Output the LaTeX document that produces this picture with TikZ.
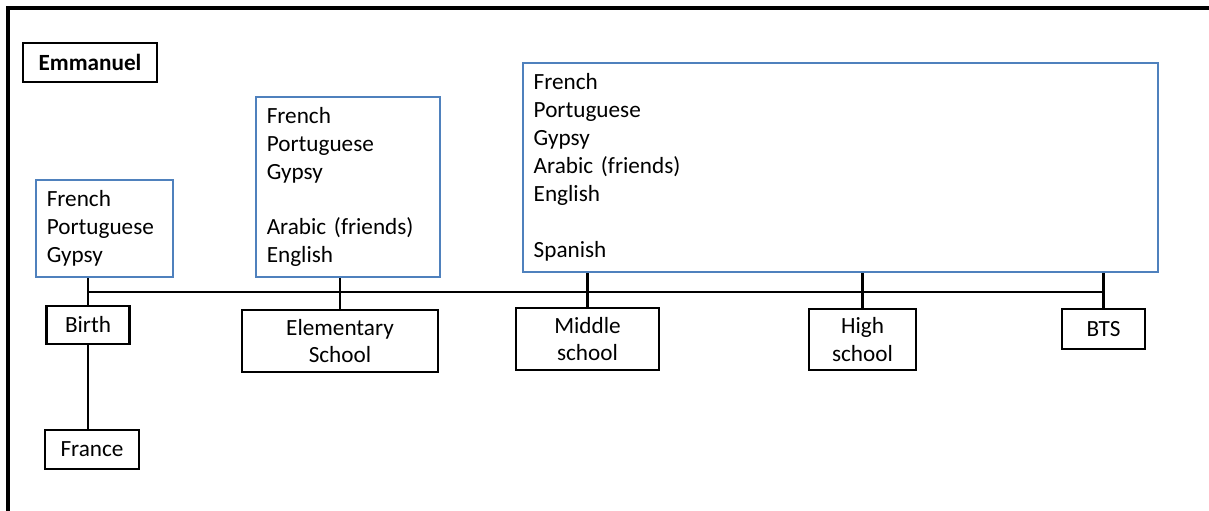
\documentclass[tikz,border=0pt]{standalone}
\usepackage{fontspec}
\setmainfont{Carlito}
\definecolor{boxblue}{RGB}{79,129,189}

\begin{document}
\begin{tikzpicture}[x=0.025cm,y=-0.025cm,-]
    \tikzstyle{langbox}=[draw=boxblue,line width=1.6pt,align=left,inner xsep=0.27cm,inner ysep=0pt,font=\fontsize{16.5}{19.85}\selectfont]
    \tikzstyle{stage}=[draw=black,line width=1.8pt,align=center,inner sep=0pt,font=\fontsize{16.5}{19.85}\selectfont]
    \tikzstyle{link}=[line width=1.8pt]
    \useasboundingbox (0,0) rectangle (1209,511);

    % frame
    \draw[line width=2.4pt] (8,511) -- (8,8) -- (1209,8);

    \node[stage,font=\bfseries\fontsize{16.5}{19.85}\selectfont,minimum width=3.35cm,minimum height=0.975cm] (name) at (90,62.5) {Emmanuel};

    % languages
    \node[langbox,text width=2.885cm,minimum height=2.425cm] (lang1) at (104.5,228.5)
        {French\\Portuguese\\Gypsy};
    \node[langbox,text width=4.06cm,minimum height=4.5cm] (lang2) at (348,187)
        {French\\Portuguese\\Gypsy\\\mbox{}\\Arabic (friends)\\English};
    \node[langbox,text width=15.335cm,minimum height=5.225cm] (lang3) at (840.5,167.5)
        {French\\Portuguese\\Gypsy\\Arabic (friends)\\English\\\mbox{}\\Spanish};

    % stages
    \node[stage,minimum width=2.075cm,minimum height=0.95cm] (birth) at (88,325) {Birth};
    \node[stage,minimum width=2.35cm,minimum height=0.975cm] (france) at (92,449.5) {France};
    \node[stage,minimum width=4.9cm,minimum height=1.55cm] (elem) at (340,341) {Elementary\\School};
    \node[stage,minimum width=3.575cm,minimum height=1.55cm] (middle) at (587.5,339) {Middle\\school};
    \node[stage,minimum width=2.675cm,minimum height=1.525cm] (high) at (862.5,339.5) {High\\school};
    \node[stage,minimum width=2.075cm,minimum height=1.0cm] (bts) at (1103.5,329) {BTS};

    % timeline
    \coordinate (tl-a) at (88,292);
    \coordinate (tl-b) at (1104,292);
    \draw[link] (tl-a) -- (tl-b);

    \foreach \lang/\stage in {lang1/birth, lang2/elem, lang3/middle, lang3/high, lang3/bts}
        \draw[link] (\stage.north) -- (\stage.north |- \lang.south);

    \draw[link] (birth.south) -- (birth.south |- france.north);
\end{tikzpicture}
\end{document}
